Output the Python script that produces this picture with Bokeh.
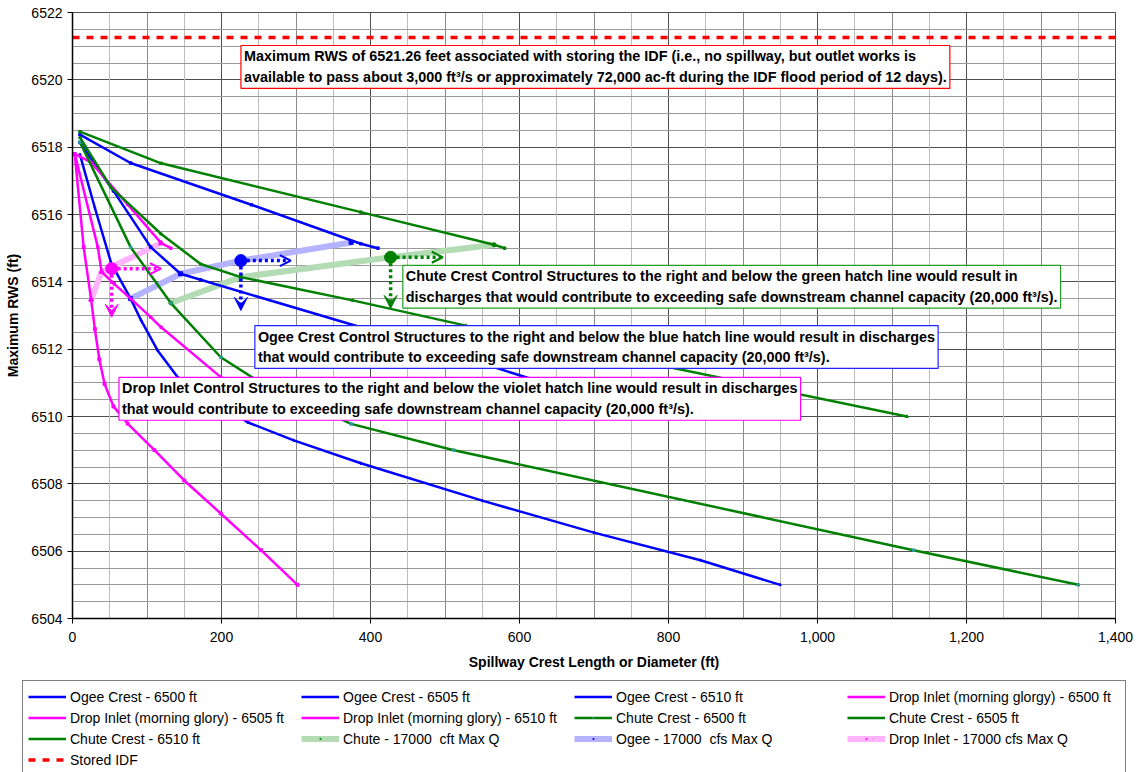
from bokeh.plotting import figure
from bokeh.layouts import column
from bokeh.models import (Legend, LegendItem, Label, Arrow, OpenHead, VeeHead,
                          FixedTicker, Grid, NumeralTickFormatter, Range1d)
from bokeh.embed import file_html
from bokeh.resources import INLINE

FONT = "Liberation Sans"

# ---------------- data ----------------
ogee_6500_x = [10, 30, 52, 78, 92, 114, 141, 235, 297, 387, 550, 700, 843, 950]
ogee_6500_y = [6517.78, 6516.2, 6514.55, 6513.5, 6512.86, 6511.97, 6511.17, 6509.83,
               6509.29, 6508.61, 6507.5, 6506.55, 6505.73, 6505.0]
ogee_6505_x = [10, 55, 105, 145, 172, 387, 558, 615, 740]
ogee_6505_y = [6518.14, 6516.7, 6515.03, 6514.24, 6514.06, 6512.65, 6511.52, 6511.12, 6510.0]
ogee_6510_x = [10, 78, 240, 387, 410]
ogee_6510_y = [6518.37, 6517.53, 6516.29, 6515.13, 6515.0]

drop_6500_x = [3, 15, 25, 30, 36, 43, 55, 74, 110, 150, 199, 253, 302]
drop_6500_y = [6517.8, 6515.03, 6513.47, 6512.6, 6511.7, 6510.97, 6510.3, 6509.79, 6509.0,
               6508.1, 6507.12, 6506.03, 6505.0]
drop_6505_x = [3, 34, 39, 56, 78, 105, 119, 199, 262]
drop_6505_y = [6517.8, 6515.03, 6514.3, 6513.94, 6513.5, 6512.95, 6512.65, 6511.17, 6510.0]
drop_6510_x = [3, 25, 74, 119, 132]
drop_6510_y = [6517.8, 6517.55, 6516.3, 6515.15, 6515.0]

chute_6500_x = [10, 78, 132, 199, 248, 374, 512, 1129, 1350]
chute_6500_y = [6518.15, 6515.03, 6513.37, 6511.76, 6511.07, 6509.78, 6509.0, 6506.03, 6505.0]
chute_6505_x = [10, 52, 119, 172, 226, 376, 528, 800, 1120]
chute_6505_y = [6518.29, 6516.8, 6515.42, 6514.53, 6514.14, 6513.45, 6512.7, 6511.47, 6510.0]
chute_6510_x = [10, 119, 387, 566, 580]
chute_6510_y = [6518.46, 6517.52, 6516.07, 6515.1, 6515.0]

chute_q_x = [132, 226, 427, 566]
chute_q_y = [6513.37, 6514.14, 6514.73, 6515.1]
ogee_q_x = [78, 145, 226, 374]
ogee_q_y = [6513.5, 6514.24, 6514.63, 6515.17]
drop_q_x = [25, 39, 119]
drop_q_y = [6513.47, 6514.3, 6515.15]

idf_x = [0, 1400]
idf_y = [6521.26, 6521.26]

# call-out points on the Max Q lines (circle + dotted arrows)
callout_x = [226, 427, 52.6]
callout_y = [6514.63, 6514.73, 6514.39]
callout_right_x = [293, 497, 118.7]
callout_down_y = [6513.15, 6513.21, 6512.95]

x_ticks = [0, 200, 400, 600, 800, 1000, 1200, 1400]
y_ticks = [6504, 6506, 6508, 6510, 6512, 6514, 6516, 6518, 6520, 6522]

legend_labels = [
    "Ogee Crest - 6500 ft", "Ogee Crest - 6505 ft", "Ogee Crest - 6510 ft",
    "Drop Inlet (morning glorgy) - 6500 ft", "Drop Inlet (morning glory) - 6505 ft",
    "Drop Inlet (morning glory) - 6510 ft", "Chute Crest - 6500 ft", "Chute Crest - 6505 ft",
    "Chute Crest - 6510 ft", "Chute - 17000  cft Max Q", "Ogee - 17000  cfs Max Q",
    "Drop Inlet - 17000 cfs Max Q", "Stored IDF",
]

note_top = ("Maximum RWS of 6521.26 feet associated with storing the IDF (i.e., no spillway, but outlet works is\n"
            "available to pass about 3,000 ft\u00b3/s or approximately 72,000 ac-ft during the IDF flood period of 12 days).")
note_chute = ("Chute Crest Control Structures to the right and below the green hatch line would result in\n"
              "discharges that would contribute to exceeding safe downstream channel capacity (20,000 ft\u00b3/s).")
note_ogee = ("Ogee Crest Control Structures to the right and below the blue hatch line would result in discharges\n"
             "that would contribute to exceeding safe downstream channel capacity (20,000 ft\u00b3/s).")
note_drop = ("Drop Inlet Control Structures to the right and below the violet hatch line would result in discharges\n"
             "that would contribute to exceeding safe downstream channel capacity (20,000 ft\u00b3/s).")

BLUE, MAG, GREEN, TEAL = "#0000FF", "#FF00FF", "#008000", "#2a9d9d"
LBLUE, LGREEN, LPINK = "#B3B3FF", "#B4DCB4", "#FFB3FF"

# style of each series: (line colour, line width, marker, marker size, marker colour, dash)
styles = [
    (BLUE, 2.5, "diamond", 3, BLUE, "solid"),
    (BLUE, 2.5, "square", 2.5, BLUE, "solid"),
    (BLUE, 2.5, "square", 2.5, BLUE, "solid"),
    (MAG, 2.5, "square", 3, MAG, "solid"),
    (MAG, 2.5, "square", 2.5, MAG, "solid"),
    (MAG, 2.5, "square", 2.5, MAG, "solid"),
    (GREEN, 2.5, "square", 2.5, TEAL, "solid"),
    (GREEN, 2.5, "triangle", 3, GREEN, "solid"),
    (GREEN, 2.5, "square", 2.5, GREEN, "solid"),
    (LGREEN, 6, "circle", 4, GREEN, "solid"),
    (LBLUE, 6, "square", 4, BLUE, "solid"),
    (LPINK, 6, "triangle", 5, MAG, "solid"),
    ("#FF0000", 3.5, None, 0, None, "7 7"),
]

series_xy = [
    (ogee_6500_x, ogee_6500_y), (ogee_6505_x, ogee_6505_y), (ogee_6510_x, ogee_6510_y),
    (drop_6500_x, drop_6500_y), (drop_6505_x, drop_6505_y), (drop_6510_x, drop_6510_y),
    (chute_6500_x, chute_6500_y), (chute_6505_x, chute_6505_y), (chute_6510_x, chute_6510_y),
    (chute_q_x, chute_q_y), (ogee_q_x, ogee_q_y), (drop_q_x, drop_q_y), (idf_x, idf_y),
]

# ---------------- main figure ----------------
p = figure(width=1138, height=672, x_range=Range1d(0, 1400), y_range=Range1d(6504, 6522),
           output_backend="svg", toolbar_location=None,
           min_border_left=72, min_border_right=23, min_border_top=12, min_border_bottom=54)
p.frame_align = False
p.background_fill_color = "white"
p.border_fill_color = "white"
p.outline_line_color = "#505050"

p.xgrid.ticker = FixedTicker(ticks=x_ticks)
p.xgrid.grid_line_color = "#505050"
p.ygrid.ticker = FixedTicker(ticks=y_ticks)
p.ygrid.grid_line_color = "#505050"
p.add_layout(Grid(dimension=0, ticker=FixedTicker(ticks=list(range(100, 1400, 200))),
                  grid_line_color="#8a8a8a"))
p.add_layout(Grid(dimension=0, ticker=FixedTicker(ticks=list(range(50, 1400, 100))),
                  grid_line_color="#bdbdbd"))
p.add_layout(Grid(dimension=1, ticker=FixedTicker(
    ticks=[6504 + 0.5 * i for i in range(37) if i % 4 != 0]), grid_line_color="#9a9a9a"))

for ax in (p.xaxis[0], p.yaxis[0]):
    ax.axis_line_color = "black"
    ax.axis_line_width = 1.5
    ax.major_tick_out = 5
    ax.major_tick_in = 0
    ax.minor_tick_out = 0
    ax.minor_tick_in = 0
    ax.major_tick_line_color = "black"
    ax.major_label_text_font = FONT
    ax.major_label_text_font_size = "14px"
    ax.major_label_text_color = "black"
    ax.axis_label_text_font = FONT
    ax.axis_label_text_font_style = "bold"
    ax.axis_label_text_color = "black"
p.xaxis.ticker = FixedTicker(ticks=x_ticks)
p.xaxis.formatter = NumeralTickFormatter(format="0,0")
p.xaxis.major_label_standoff = 8
p.xaxis.axis_label = "Spillway Crest Length or Diameter (ft)"
p.xaxis.axis_label_text_font_size = "14px"
p.xaxis.axis_label_standoff = 9
p.yaxis.ticker = FixedTicker(ticks=y_ticks)
p.yaxis.formatter = NumeralTickFormatter(format="0")
p.yaxis.major_label_standoff = 5
p.yaxis.axis_label = "Maximum RWS (ft)"
p.yaxis.axis_label_text_font_size = "14px"
p.yaxis.axis_label_standoff = 7

# draw order: Max Q lines underneath, then the crest curves, then the stored IDF line
draw_order = [9, 10, 11, 0, 1, 2, 3, 4, 5, 6, 7, 8, 12]
for i in draw_order:
    (x, y) = series_xy[i]
    col, w, mk, ms, mc, dash = styles[i]
    p.line(x, y, line_color=col, line_width=w, line_dash=dash)
    if mk:
        p.scatter(x, y, marker=mk, size=ms, fill_color=mc, line_color=mc)

# call-outs: circles and dotted arrows
callout_colors = [BLUE, GREEN, MAG]
p.scatter(callout_x, callout_y, size=12, color=callout_colors)
for cx, cy, rx, dy, c in zip(callout_x, callout_y, callout_right_x, callout_down_y, callout_colors):
    p.add_layout(Arrow(x_start=cx, y_start=cy, x_end=rx, y_end=cy,
                       line_color=c, line_width=3.5, line_dash="3 3",
                       end=OpenHead(size=11, line_color=c, line_width=2)))
    p.add_layout(Arrow(x_start=cx, y_start=cy, x_end=cx, y_end=dy,
                       line_color=c, line_width=3.5, line_dash="3 3",
                       end=VeeHead(size=13, fill_color=c, line_color=c, line_width=1)))


def note(x, y, text, border):
    p.add_layout(Label(x=x, y=y, text=text, anchor="top_left",
                       text_font=FONT, text_font_style="bold", text_font_size="14.4px",
                       text_color="black", text_line_height=1.3,
                       background_fill_color="white", border_line_color=border,
                       border_line_width=1.2, padding=3))

note(226.1, 6521.02, note_top, "#FF0000")
note(443.4, 6514.49, note_chute, "#22A022")
note(244.8, 6512.70, note_ogee, "#2222FF")
note(62.4, 6511.16, note_drop, "#FF00FF")

# ---------------- legend strip (own small figure below the chart) ----------------
# its renderers reuse the series data, which lies far outside this strip's 0..1 ranges,
# so only the legend swatches are visible here
lg = figure(width=1138, height=100, x_range=Range1d(0, 1), y_range=Range1d(0, 1),
            output_backend="svg", toolbar_location=None,
            x_axis_type=None, y_axis_type=None,
            min_border_left=0, min_border_right=0, min_border_top=0, min_border_bottom=0)
lg.frame_align = False
lg.xgrid.visible = False
lg.ygrid.visible = False
lg.outline_line_color = None
lg.background_fill_color = "white"
lg.border_fill_color = "white"

items = []
for lab, (x, y), (col, w, mk, ms, mc, dash) in zip(legend_labels, series_xy, styles):
    rs = [lg.line(x, y, line_color=col, line_width=w, line_dash=dash)]
    if mk:
        rs.append(lg.scatter(x, y, marker="dot", size=ms, fill_color=mc, line_color=mc,
                             line_width=2))
    items.append(LegendItem(label=lab, renderers=rs))

legend = Legend(items=items, location=(22, -4), orientation="horizontal", ncols=4,
                label_text_font=FONT, label_text_font_size="14px", label_text_color="black",
                glyph_width=38, glyph_height=21, label_height=21, label_width=231,
                label_standoff=4, spacing=0, padding=5, margin=0,
                border_line_color="black", border_line_width=1,
                background_fill_color="white", background_fill_alpha=1)
lg.add_layout(legend)

open("out.html", "w").write(file_html(column(p, lg, spacing=0), INLINE))
